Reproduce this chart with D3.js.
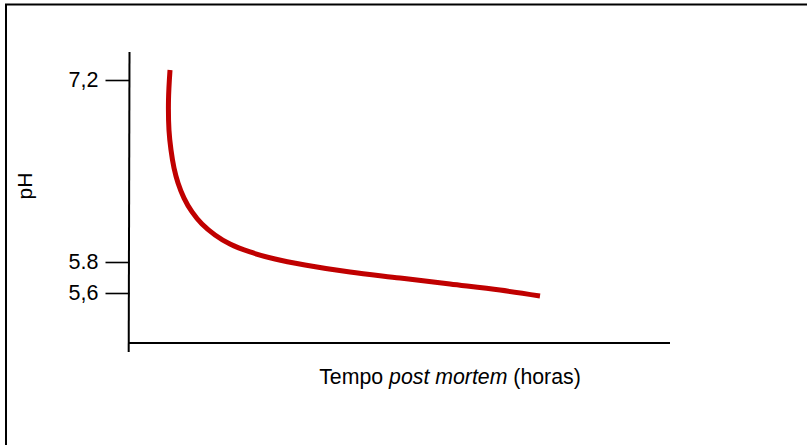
<!DOCTYPE html>
<html>
<head>
<meta charset="utf-8">
<script src="https://cdn.jsdelivr.net/npm/d3@7"></script>
<style>
  html, body { margin: 0; padding: 0; background: #fff; }
  svg { display: block; }
  text { font-family: "Liberation Sans", Arial, sans-serif; fill: #000; }
</style>
</head>
<body>
<svg id="chart" width="807" height="445"></svg>
<script>
// ---- data ----
const tickValues = [5.6, 5.8, 7.2];
const tickLabels = ["5,6", "5.8", "7,2"];
const timeHours = [7.58, 7.30, 7.39, 7.76, 8.32, 9.06, 10.17, 11.65, 13.49, 15.90, 18.67, 22.37, 26.99, 32.53, 40.85, 50.09, 59.33, 68.58, 75.97];
const phValues  = [7.277, 7.046, 6.815, 6.662, 6.523, 6.408, 6.292, 6.185, 6.092, 6.008, 5.938, 5.877, 5.823, 5.781, 5.735, 5.697, 5.658, 5.619, 5.581];
const xLabelParts = [["Tempo ", "normal"], ["post mortem", "italic"], [" (horas)", "normal"]];
const yLabel = "pH";

// ---- layout ----
const svg = d3.select("#chart");
const axisX = 129.5, axisTop = 52, axisBottom = 352;
const xAxisY = 343, xAxisRight = 670;

const x = d3.scaleLinear().domain([0, 100]).range([129, 670]);
const y = d3.scaleLinear().domain([5.6, 5.8, 7.2]).range([293, 262, 80]);

// frame
svg.append("rect")
  .attr("x", 6).attr("y", 4.5)
  .attr("width", 900).attr("height", 500)
  .attr("fill", "none").attr("stroke", "#000").attr("stroke-width", 2);

// y axis line
svg.append("line")
  .attr("x1", axisX).attr("x2", axisX - 0.8)
  .attr("y1", axisTop).attr("y2", axisBottom)
  .attr("stroke", "#000").attr("stroke-width", 2);

// x axis line
svg.append("line")
  .attr("x1", 128.5).attr("x2", xAxisRight)
  .attr("y1", xAxisY).attr("y2", xAxisY)
  .attr("stroke", "#000").attr("stroke-width", 2);

// y ticks
const yAxis = d3.axisLeft(y)
  .tickValues(tickValues)
  .tickFormat((d, i) => tickLabels[i])
  .tickSize(24)
  .tickPadding(7);
const gy = svg.append("g").attr("transform", `translate(${axisX},0)`).call(yAxis);
gy.select(".domain").remove();
gy.selectAll(".tick line").attr("stroke", "#000").attr("stroke-width", 1.6);
gy.selectAll(".tick text")
  .attr("font-family", "Liberation Sans, Arial, sans-serif")
  .attr("font-size", 21.5).attr("fill", "#000");

// curve
const line = d3.line()
  .x((d, i) => x(timeHours[i]))
  .y((d, i) => y(phValues[i]))
  .curve(d3.curveCatmullRom.alpha(0.5));
svg.append("path")
  .datum(timeHours)
  .attr("d", line)
  .attr("fill", "none")
  .attr("stroke", "#c00000")
  .attr("stroke-width", 5)
  .attr("stroke-linecap", "butt");

// x label
const xl = svg.append("text")
  .attr("x", 450).attr("y", 384)
  .attr("text-anchor", "middle")
  .attr("font-size", 21.3);
xLabelParts.forEach(p => xl.append("tspan").attr("font-style", p[1]).text(p[0]));

// y label
svg.append("text")
  .attr("transform", "translate(32,186) rotate(-90)")
  .attr("text-anchor", "middle")
  .attr("font-size", 21)
  .text(yLabel);
</script>
</body>
</html>
